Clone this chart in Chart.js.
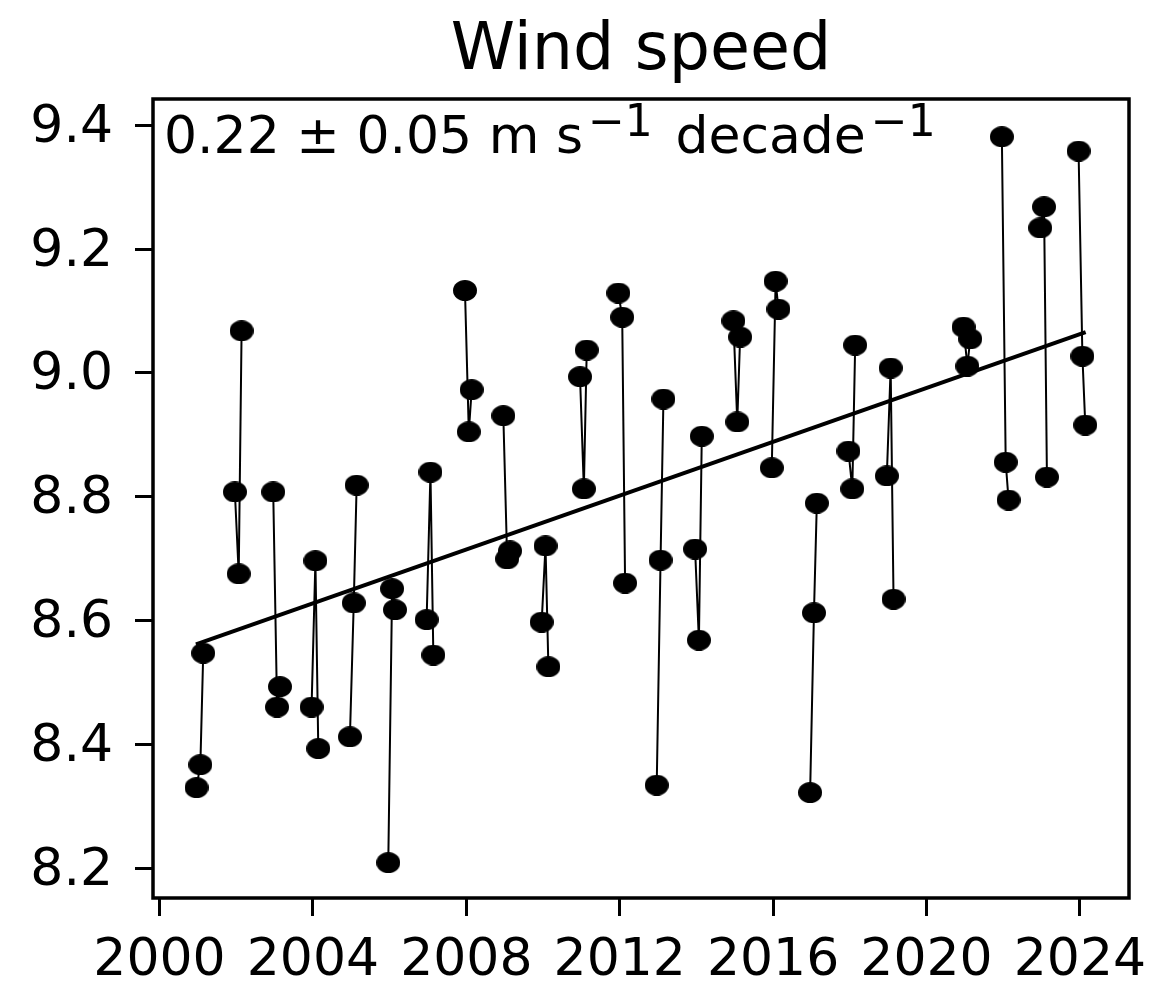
<!DOCTYPE html>
<html lang="en">
<head>
<meta charset="UTF-8">
<title>Wind speed</title>
<script src="https://cdn.jsdelivr.net/npm/chart.js"></script>
<style>
    html, body { margin: 0; padding: 0; background: #fff; overflow: hidden; }
    #wrap { width: 1158px; height: 996px; position: relative; }
</style>
</head>
<body>
<div id="wrap"><canvas id="chart"></canvas></div>

<script>
    // winter months (Dec, Jan, Feb), labelled by the January year; 2020 is missing
    const years = [2001, 2002, 2003, 2004, 2005, 2006, 2007, 2008, 2009, 2010, 2011, 2012,
        2013, 2014, 2015, 2016, 2017, 2018, 2019, 2021, 2022, 2023, 2024];
    const decSpeed = [8.331, 8.808, 8.808, 8.461, 8.413, 8.210, 8.602, 9.133, 8.931, 8.598, 8.994, 9.129,
        8.335, 8.716, 9.084, 8.847, 8.323, 8.874, 8.834, 9.074, 9.381, 9.234, 9.358];
    const janSpeed = [8.368, 8.676, 8.461, 8.697, 8.629, 8.652, 8.840, 8.905, 8.700, 8.721, 8.813, 9.090,
        8.698, 8.569, 8.921, 9.148, 8.613, 8.813, 9.008, 9.011, 8.856, 9.268, 9.027];
    const febSpeed = [8.548, 9.068, 8.494, 8.394, 8.819, 8.618, 8.545, 8.973, 8.713, 8.526, 9.037, 8.661,
        8.958, 8.898, 9.058, 9.103, 8.790, 9.045, 8.635, 9.055, 8.795, 8.832, 8.916];
    const monthPos = [-0.035, 0.065, 0.14];   // Dec, Jan, Feb position in the year

    const trendYears = [2000.95, 2024.15];
    const trendSpeed = [8.562, 9.066];

    const xTicks = [2000, 2004, 2008, 2012, 2016, 2020, 2024];
    const yTicks = [8.2, 8.4, 8.6, 8.8, 9.0, 9.2, 9.4];

    const titleText = 'Wind speed';
    const trendParts = [
        { t: '0.22 \u00b1 0.05 m s' },
        { t: '\u22121', sup: true },
        { t: ' decade' },
        { t: '\u22121', sup: true }
    ];

    const FONT = '"DejaVu Sans", sans-serif';

    // one line per winter, broken by a null point
    const points = [];
    years.forEach((yr, i) => {
        [decSpeed[i], janSpeed[i], febSpeed[i]].forEach((v, m) => {
            points.push({ x: yr + monthPos[m], y: v });
        });
        points.push({ x: yr + 0.5, y: null });
    });
    const trend = trendYears.map((yr, i) => ({ x: yr, y: trendSpeed[i] }));

    // slightly wide dots, like the original
    function ellipseMarker(w, h) {
        const c = document.createElement('canvas');
        c.width = w;
        c.height = h;
        const g = c.getContext('2d');
        g.fillStyle = '#000';
        g.beginPath();
        g.ellipse(w / 2, h / 2, w / 2, h / 2, 0, 0, Math.PI * 2);
        g.fill();
        return c;
    }
    const dot = ellipseMarker(24, 21);

    const textPlugin = {
        id: 'texts',
        afterDraw(chart) {
            const { ctx, chartArea: a } = chart;
            ctx.save();

            // frame
            ctx.strokeStyle = '#000';
            ctx.lineWidth = 3.5;
            ctx.strokeRect(a.left, a.top, a.right - a.left, a.bottom - a.top);

            ctx.fillStyle = '#000';
            ctx.textBaseline = 'alphabetic';
            ctx.textAlign = 'center';
            ctx.font = '65px ' + FONT;
            ctx.fillText(titleText, (a.left + a.right) / 2, 69);

            ctx.textAlign = 'left';
            let x = a.left + 11;
            const base = 153;
            trendParts.forEach((p, i) => {
                if (p.sup) x += 5;
                if (i === 2) x += 6;
                ctx.font = (p.sup ? 44 : 52) + 'px ' + FONT;
                ctx.fillText(p.t, x, p.sup ? base - 17 : base);
                x += ctx.measureText(p.t).width;
            });
            ctx.restore();
        }
    };

    const tickFont = { family: FONT, size: 52 };

    new Chart(document.getElementById('chart'), {
        type: 'line',
        data: {
            datasets: [{
                data: points,
                borderColor: '#000',
                borderWidth: 2,
                pointStyle: dot,
                pointRadius: 10,
                pointHoverRadius: 10,
                spanGaps: false,
                tension: 0
            }, {
                data: trend,
                borderColor: '#000',
                borderWidth: 4,
                pointRadius: 0,
                pointHoverRadius: 0,
                tension: 0
            }]
        },
        options: {
            responsive: true,
            maintainAspectRatio: false,
            animation: false,
            events: [],
            layout: { padding: { top: 99, right: 29, left: 0, bottom: 0 } },
            plugins: {
                legend: { display: false },
                tooltip: { enabled: false },
                title: { display: false }
            },
            scales: {
                x: {
                    type: 'linear',
                    min: 1999.83,
                    max: 2025.28,
                    afterBuildTicks: s => { s.ticks = xTicks.map(v => ({ value: v })); },
                    afterFit: s => {
                        s.height = 98;
                        s.paddingLeft = 0;
                        s.paddingRight = 0;
                    },
                    ticks: {
                        callback: v => String(v),
                        font: tickFont,
                        color: '#000',
                        padding: 14,
                        maxRotation: 0,
                        autoSkip: false
                    },
                    grid: {
                        display: true,
                        drawOnChartArea: false,
                        drawTicks: true,
                        tickLength: 18,
                        tickWidth: 3,
                        tickColor: '#000'
                    },
                    border: { display: false }
                },
                y: {
                    type: 'linear',
                    min: 8.153,
                    max: 9.442,
                    afterBuildTicks: s => { s.ticks = yTicks.map(v => ({ value: v })); },
                    afterFit: s => {
                        s.width = 153;
                        s.paddingTop = 0;
                        s.paddingBottom = 0;
                    },
                    ticks: {
                        callback: v => v.toFixed(1),
                        font: tickFont,
                        color: '#000',
                        padding: 22,
                        labelOffset: 3,
                        autoSkip: false
                    },
                    grid: {
                        display: true,
                        drawOnChartArea: false,
                        drawTicks: true,
                        tickLength: 18,
                        tickWidth: 3,
                        tickColor: '#000'
                    },
                    border: { display: false }
                }
            }
        },
        plugins: [textPlugin]
    });
</script>
</body>
</html>
